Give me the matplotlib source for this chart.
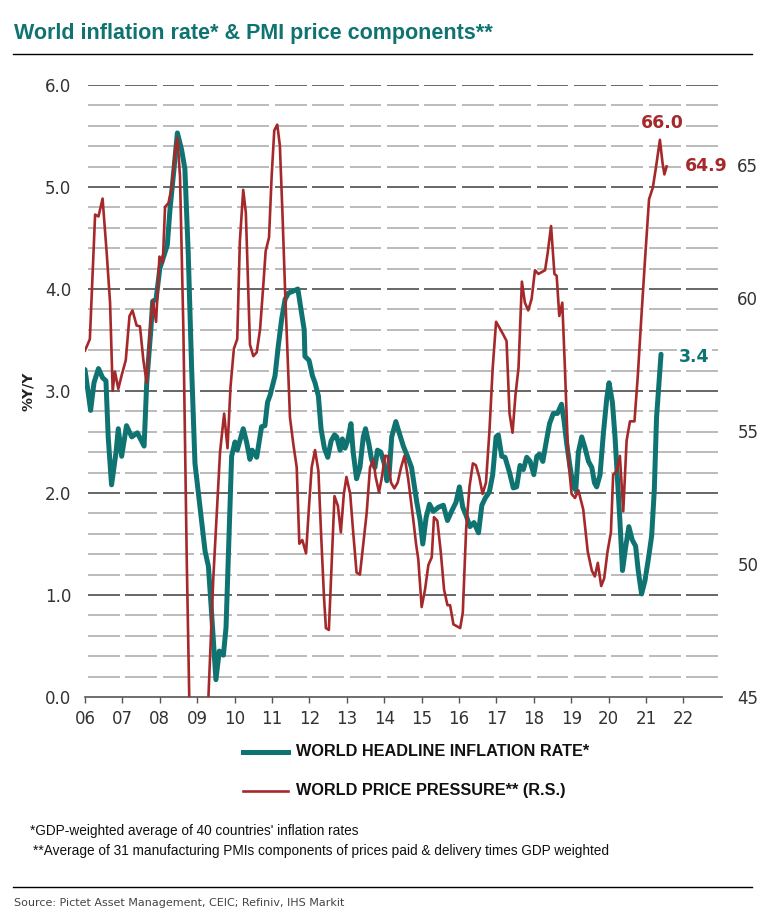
import matplotlib

matplotlib.use("Agg")
import matplotlib.pyplot as plt
from matplotlib.lines import Line2D
import numpy as np

TEAL = "#0f7471"
RED = "#a5292b"

# World headline inflation rate, % y/y (left axis)
infl_t = [2006.00, 2006.15, 2006.24, 2006.36, 2006.47, 2006.56, 2006.62, 2006.71, 2006.83, 2006.89,
          2006.98, 2007.11, 2007.25, 2007.40, 2007.58, 2007.65, 2007.76, 2007.81, 2007.90, 2008.00,
          2008.20, 2008.27, 2008.38, 2008.47, 2008.58, 2008.67, 2008.76, 2008.85, 2008.94, 2009.07,
          2009.21, 2009.30, 2009.39, 2009.50, 2009.59, 2009.70, 2009.77, 2009.83, 2009.92, 2010.01,
          2010.07, 2010.23, 2010.32, 2010.41, 2010.47, 2010.59, 2010.72, 2010.81, 2010.88, 2010.95,
          2011.08, 2011.17, 2011.26, 2011.35, 2011.44, 2011.57, 2011.69, 2011.77, 2011.86, 2011.88,
          2011.99, 2012.08, 2012.15, 2012.24, 2012.31, 2012.40, 2012.49, 2012.58, 2012.67, 2012.73,
          2012.82, 2012.88, 2012.95, 2013.02, 2013.11, 2013.17, 2013.26, 2013.35, 2013.44, 2013.50,
          2013.59, 2013.66, 2013.75, 2013.82, 2013.91, 2014.00, 2014.07, 2014.13, 2014.20, 2014.31,
          2014.40, 2014.51, 2014.63, 2014.73, 2014.87, 2014.96, 2015.03, 2015.12, 2015.21, 2015.31,
          2015.45, 2015.58, 2015.69, 2015.80, 2015.92, 2016.01, 2016.10, 2016.19, 2016.29, 2016.40,
          2016.52, 2016.61, 2016.70, 2016.81, 2016.90, 2016.99, 2017.05, 2017.14, 2017.23, 2017.35,
          2017.45, 2017.54, 2017.63, 2017.72, 2017.81, 2017.90, 2018.00, 2018.08, 2018.15, 2018.24,
          2018.33, 2018.42, 2018.52, 2018.63, 2018.74, 2018.81, 2018.88, 2018.97, 2019.06, 2019.12,
          2019.19, 2019.28, 2019.37, 2019.46, 2019.55, 2019.62, 2019.68, 2019.77, 2019.86, 2019.95,
          2020.01, 2020.10, 2020.17, 2020.24, 2020.30, 2020.37, 2020.45, 2020.54, 2020.63, 2020.72,
          2020.79, 2020.88, 2020.97, 2021.06, 2021.15, 2021.22, 2021.28, 2021.40]
infl_v = [3.21, 2.81, 3.08, 3.22, 3.13, 3.10, 2.55, 2.08, 2.40, 2.63,
          2.36, 2.66, 2.55, 2.59, 2.46, 3.08, 3.60, 3.88, 3.90, 4.20,
          4.43, 4.77, 5.18, 5.53, 5.37, 5.18, 4.35, 3.23, 2.29, 1.88,
          1.43, 1.28, 0.79, 0.17, 0.45, 0.41, 0.68, 1.35, 2.36, 2.50,
          2.42, 2.63, 2.50, 2.33, 2.42, 2.35, 2.65, 2.66, 2.89, 2.96,
          3.15, 3.45, 3.71, 3.90, 3.96, 3.98, 4.00, 3.81, 3.60, 3.34,
          3.30, 3.15, 3.08, 2.95, 2.63, 2.44, 2.35, 2.51, 2.57, 2.55,
          2.42, 2.53, 2.44, 2.51, 2.68, 2.40, 2.14, 2.25, 2.55, 2.63,
          2.48, 2.33, 2.25, 2.42, 2.40, 2.29, 2.12, 2.18, 2.55, 2.70,
          2.59, 2.46, 2.35, 2.25, 1.91, 1.73, 1.50, 1.76, 1.89, 1.82,
          1.86, 1.88, 1.73, 1.82, 1.91, 2.06, 1.86, 1.78, 1.67, 1.71,
          1.61, 1.88, 1.95, 2.01, 2.18, 2.55, 2.57, 2.36, 2.35, 2.20,
          2.05, 2.06, 2.27, 2.23, 2.35, 2.31, 2.18, 2.36, 2.38, 2.31,
          2.50, 2.68, 2.78, 2.78, 2.87, 2.70, 2.48, 2.25, 2.06, 2.03,
          2.40, 2.55, 2.44, 2.31, 2.25, 2.10, 2.06, 2.18, 2.59, 2.93,
          3.08, 2.89, 2.55, 2.10, 1.73, 1.24, 1.46, 1.67, 1.54, 1.48,
          1.24, 1.01, 1.14, 1.35, 1.58, 2.03, 2.74, 3.36]

# World price pressure, PMI price components (right axis)
pmi_t = [2006.00, 2006.13, 2006.27, 2006.36, 2006.47, 2006.58, 2006.67, 2006.74, 2006.80, 2006.89,
         2006.98, 2007.09, 2007.19, 2007.27, 2007.38, 2007.47, 2007.56, 2007.65, 2007.74, 2007.81,
         2007.90, 2007.99, 2008.08, 2008.14, 2008.23, 2008.32, 2008.41, 2008.47, 2008.54, 2008.63,
         2008.72, 2008.80, 2008.88, 2008.96, 2009.04, 2009.13, 2009.21, 2009.30, 2009.43, 2009.54,
         2009.61, 2009.72, 2009.81, 2009.89, 2009.98, 2010.07, 2010.14, 2010.23, 2010.30, 2010.36,
         2010.41, 2010.50, 2010.59, 2010.68, 2010.77, 2010.83, 2010.92, 2010.99, 2011.06, 2011.14,
         2011.21, 2011.28, 2011.35, 2011.42, 2011.48, 2011.57, 2011.66, 2011.73, 2011.81, 2011.91,
         2011.99, 2012.06, 2012.15, 2012.24, 2012.31, 2012.39, 2012.44, 2012.52, 2012.60, 2012.67,
         2012.76, 2012.84, 2012.92, 2012.99, 2013.09, 2013.17, 2013.26, 2013.35, 2013.44, 2013.53,
         2013.62, 2013.71, 2013.77, 2013.86, 2013.93, 2014.02, 2014.09, 2014.18, 2014.27, 2014.36,
         2014.45, 2014.54, 2014.64, 2014.73, 2014.78, 2014.85, 2014.91, 2015.00, 2015.09, 2015.18,
         2015.27, 2015.33, 2015.42, 2015.51, 2015.60, 2015.69, 2015.76, 2015.85, 2015.94, 2016.03,
         2016.10, 2016.19, 2016.28, 2016.37, 2016.45, 2016.54, 2016.63, 2016.72, 2016.81, 2016.90,
         2016.99, 2017.08, 2017.19, 2017.27, 2017.35, 2017.43, 2017.51, 2017.59, 2017.68, 2017.76,
         2017.85, 2017.94, 2018.03, 2018.12, 2018.21, 2018.30, 2018.37, 2018.46, 2018.55, 2018.61,
         2018.68, 2018.76, 2018.83, 2018.92, 2019.01, 2019.10, 2019.19, 2019.32, 2019.44, 2019.55,
         2019.63, 2019.71, 2019.80, 2019.88, 2019.97, 2020.06, 2020.12, 2020.21, 2020.30, 2020.39,
         2020.48, 2020.57, 2020.69, 2020.78, 2020.86, 2020.97, 2021.08, 2021.18, 2021.26, 2021.37,
         2021.44, 2021.49, 2021.55]
pmi_v = [58.02, 58.45, 63.13, 63.06, 63.73, 61.69, 59.82, 56.51, 57.23, 56.58,
         57.09, 57.66, 59.32, 59.53, 58.96, 58.93, 57.66, 56.80, 58.81, 59.89,
         59.10, 61.55, 61.33, 63.42, 63.56, 64.14, 65.58, 66.01, 64.57, 58.81,
         50.18, 44.00, 40.00, 37.50, 37.00, 38.50, 41.50, 45.00, 49.46, 52.34,
         54.20, 55.65, 54.35, 56.65, 58.09, 58.45, 62.12, 64.06, 63.20, 60.50,
         58.24, 57.81, 57.95, 58.81, 60.54, 61.76, 62.27, 64.57, 66.29, 66.51,
         65.72, 63.13, 60.25, 57.66, 55.50, 54.50, 53.63, 50.76, 50.90, 50.40,
         52.19, 53.63, 54.28, 53.49, 51.19, 48.74, 47.59, 47.52, 50.18, 52.55,
         52.19, 51.19, 52.63, 53.27, 52.63, 51.19, 49.68, 49.60, 50.76, 51.91,
         53.63, 53.92, 53.27, 52.70, 53.20, 54.06, 54.06, 53.06, 52.84, 53.06,
         53.63, 54.06, 53.20, 52.19, 51.62, 50.76, 50.18, 48.38, 49.03, 49.96,
         50.25, 51.76, 51.62, 50.47, 49.03, 48.45, 48.45, 47.73, 47.66, 47.59,
         48.17, 51.33, 52.91, 53.78, 53.71, 53.27, 52.63, 53.06, 54.93, 57.37,
         59.10, 58.88, 58.60, 58.38, 55.65, 54.93, 56.37, 57.37, 60.61, 59.82,
         59.53, 59.96, 61.04, 60.90, 60.97, 61.04, 61.69, 62.70, 60.90, 60.83,
         59.32, 59.82, 57.37, 53.92, 52.63, 52.48, 52.77, 52.05, 50.47, 49.75,
         49.53, 50.04, 49.17, 49.46, 50.47, 51.19, 53.35, 53.49, 54.06, 51.98,
         54.64, 55.36, 55.36, 57.09, 58.96, 61.40, 63.71, 64.14, 64.86, 65.94,
         65.07, 64.64, 64.94]

years = list(range(2006, 2023))
year_labels = ["06", "07", "08", "09", "10", "11", "12", "13", "14", "15",
               "16", "17", "18", "19", "20", "21", "22"]
left_ticks = [0.0, 1.0, 2.0, 3.0, 4.0, 5.0, 6.0]
right_ticks = [45, 50, 55, 60, 65]

SANS = "Liberation Sans"

fig = plt.figure(figsize=(7.61, 9.19), dpi=100)
ax = fig.add_axes([85 / 761, 1 - 697 / 919, (722 - 85) / 761, (697 - 85) / 919])
ax2 = ax.twinx()

ax.set_xlim(2006, 2023.03)
ax.set_ylim(0, 6)
ax2.set_ylim(45, 68)

# year-segmented horizontal grid
for level in np.arange(0.2, 6.01, 0.2):
    major = abs(level - round(level)) < 1e-6
    for yr in years:
        ax.plot([yr + 0.075, yr + 0.925], [level, level],
                color="#5a5a5a" if major else "#a8a8a8",
                linewidth=1.3 if major else 1.1, zorder=1, solid_capstyle="butt")

ax.plot(infl_t, infl_v, color=TEAL, linewidth=3.6, solid_capstyle="round",
        solid_joinstyle="round", zorder=3)
ax2.plot(pmi_t, pmi_v, color=RED, linewidth=1.9, solid_joinstyle="round", zorder=3)

for a in (ax, ax2):
    for side in ("top", "left", "right"):
        a.spines[side].set_visible(False)
ax.spines["bottom"].set_color("#555555")
ax.spines["bottom"].set_linewidth(1.2)
ax2.spines["bottom"].set_visible(False)

ax.set_xticks(years)
ax.set_xticklabels(year_labels)
ax.tick_params(axis="x", length=4, width=1, color="#555555", pad=5,
               labelsize=12, labelcolor="#333333")
ax.set_yticks(left_ticks)
ax.set_yticklabels([f"{v:.1f}" for v in left_ticks])
ax.tick_params(axis="y", length=0, pad=10, labelsize=12, labelcolor="#333333")
ax2.set_yticks(right_ticks)
ax2.tick_params(axis="y", length=0, pad=11, labelsize=12, labelcolor="#333333")

ax.set_ylabel("%Y/Y", fontsize=10, fontweight="bold", color="#222222", labelpad=7)

box = dict(facecolor="white", edgecolor="none", pad=1.5)
ax2.annotate("66.0", xy=(pmi_t[-3], pmi_v[-3]), xytext=(0, 22),
             textcoords="offset points", ha="center", va="bottom", color=RED,
             fontsize=12.5, fontweight="bold", bbox=box, zorder=5)
ax2.annotate("64.9", xy=(pmi_t[-1], pmi_v[-1]), xytext=(13, 0),
             textcoords="offset points", ha="left", va="center", color=RED,
             fontsize=12.5, fontweight="bold", bbox=box, zorder=5)
ax2.annotate("3.4", xy=ax2.transData.inverted().transform(ax.transData.transform((infl_t[-1], infl_v[-1]))),
             xytext=(13, -2), textcoords="offset points", ha="left", va="center",
             color=TEAL, fontsize=12.5, fontweight="bold", bbox=box, zorder=5)

# title and rules
fig.text(14 / 761, 1 - 33 / 919, "World inflation rate* & PMI price components**",
         color=TEAL, fontsize=15.5, fontweight="bold", family=SANS, va="center")
fig.add_artist(Line2D([13 / 761, 752 / 761], [1 - 54 / 919] * 2, color="black", linewidth=1))
fig.add_artist(Line2D([13 / 761, 752 / 761], [1 - 887 / 919] * 2, color="black", linewidth=1))

# legend
fig.add_artist(Line2D([243 / 761, 288 / 761], [1 - 752 / 919] * 2, color=TEAL, linewidth=3.6))
fig.add_artist(Line2D([243 / 761, 288 / 761], [1 - 791 / 919] * 2, color=RED, linewidth=1.9))
fig.text(296 / 761, 1 - 752 / 919, "WORLD HEADLINE INFLATION RATE*", fontsize=11.7,
         fontweight="bold", family=SANS, va="center", color="#111111")
fig.text(296 / 761, 1 - 791 / 919, "WORLD PRICE PRESSURE** (R.S.)", fontsize=11.7,
         fontweight="bold", family=SANS, va="center", color="#111111")

# footnotes
fig.text(30 / 761, 1 - 831 / 919, "*GDP-weighted average of 40 countries' inflation rates",
         fontsize=9.8, family=SANS, va="center", color="#111111")
fig.text(33 / 761, 1 - 851 / 919,
         "**Average of 31 manufacturing PMIs components of prices paid & delivery times GDP weighted",
         fontsize=9.8, family=SANS, va="center", color="#111111")
fig.text(14 / 761, 1 - 903 / 919, "Source: Pictet Asset Management, CEIC; Refiniv, IHS Markit",
         fontsize=8.0, va="center", color="#444444")

fig.savefig("out.png", dpi=100)
plt.close(fig)
